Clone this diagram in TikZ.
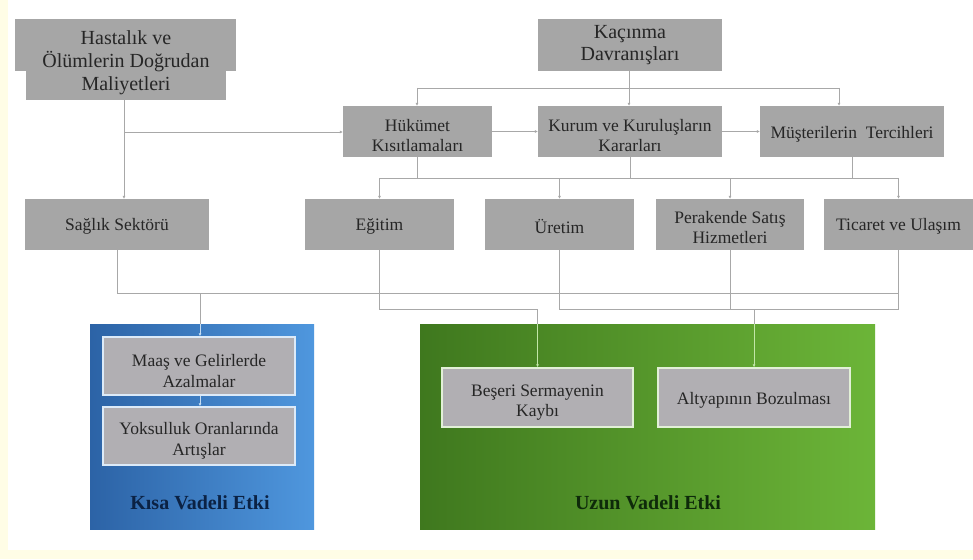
\documentclass[tikz,border=0pt]{standalone}
\usepackage{fontspec}
\setmainfont{Liberation Serif}
\usetikzlibrary{arrows.meta}
\definecolor{boxgray}{HTML}{A6A6A6}
\definecolor{innergray}{HTML}{B1AFB3}
\definecolor{linegray}{HTML}{A8A8A8}
\definecolor{txt}{HTML}{262626}
\definecolor{bgyellow}{HTML}{FFFDE6}
\definecolor{blueA}{HTML}{2C63A6}
\definecolor{blueB}{HTML}{4F97DE}
\definecolor{greenA}{HTML}{3F781E}
\definecolor{greenB}{HTML}{6CB538}
\definecolor{blueline}{HTML}{C4DCF2}
\definecolor{greenline}{HTML}{C2E6A8}
\definecolor{navy}{HTML}{0B2244}
\definecolor{dkgreen}{HTML}{0E2A0A}
\tikzset{
  gbox/.style={fill=boxgray, inner sep=0pt},
  ibox/.style={fill=innergray, inner sep=0pt, line width=1.5pt},
  tstyle/.style={inner sep=0pt, align=center, text=txt,
    font=\fontsize{17.5}{20.5}\selectfont},
  bigt/.style={tstyle, font=\fontsize{20}{23}\selectfont},
  conn/.style={draw=linegray, line width=0.8pt},
  arr/.style={conn, -{Latex[length=3pt,width=3pt]}},
  barr/.style={draw=blueline, line width=0.8pt, -{Latex[length=3pt,width=3pt]}},
  garr/.style={draw=greenline, line width=0.8pt, -{Latex[length=3pt,width=3pt]}},
  lbl/.style={font=\fontsize{20}{24}\selectfont\bfseries, inner sep=0pt}
}
\begin{document}
\begin{tikzpicture}[x=1pt,y=-1pt]
\useasboundingbox (0,0) rectangle (973,559);
\fill[bgyellow] (0,0) rectangle (973,559);
\fill[white] (8,0) rectangle (973,550);

% top row
\fill[boxgray] (15,19) rectangle (236,71);
\node[gbox, minimum width=200pt, minimum height=81pt] (hast) at (126,59.5) {};
\node[bigt, yshift=-3pt] (hastT) at (hast) {Hastalık ve\\Ölümlerin Doğrudan\\Maliyetleri};
\node[gbox, minimum width=184pt, minimum height=52pt] (kac) at (630,45) {};
\node[bigt, font=\fontsize{20}{22}\selectfont] (kacT) at (kac) {Kaçınma\\Davranışları};

% second row
\node[gbox, minimum width=149pt, minimum height=51pt] (huk) at (417.5,131.5) {};
\node[gbox, minimum width=184pt, minimum height=51pt] (kur) at (630,131.5) {};
\node[gbox, minimum width=184pt, minimum height=51pt] (mus) at (852,131.5) {};
\node[tstyle, yshift=-4pt] (hukT) at (huk) {Hükümet\\Kısıtlamaları};
\node[tstyle, yshift=-4pt] (kurT) at (kur) {Kurum ve Kuruluşların\\Kararları};
\node[tstyle, yshift=-3pt] (musT) at (mus) {Müşterilerin~~Tercihleri};

% third row
\node[gbox, minimum width=184pt, minimum height=51pt] (sag) at (117,224.5) {};
\node[gbox, minimum width=149pt, minimum height=51pt] (egi) at (379.5,224.5) {};
\node[gbox, minimum width=149pt, minimum height=51pt] (ure) at (559.5,224.5) {};
\node[gbox, minimum width=148pt, minimum height=51pt] (per) at (730,224.5) {};
\node[gbox, minimum width=149pt, minimum height=51pt] (tic) at (898.5,224.5) {};
\node[tstyle, yshift=-2pt] (sagT) at (sag) {Sağlık Sektörü};
\node[tstyle, yshift=-2pt] (egiT) at (egi) {Eğitim};
\node[tstyle, yshift=-2pt] (ureT) at (ure) {Üretim};
\node[tstyle, yshift=-3pt] (perT) at (per) {Perakende Satış\\Hizmetleri};
\node[tstyle, yshift=-2pt] (ticT) at (tic) {Ticaret ve Ulaşım};

% effect panels
\node[inner sep=0pt, minimum width=224pt, minimum height=205pt, left color=blueA, right color=blueB] (kisa) at (202,426.5) {};
\node[inner sep=0pt, minimum width=455pt, minimum height=205pt, left color=greenA, right color=greenB] (uzun) at (647.5,426.5) {};

\node[ibox, draw=white!80!blueB, minimum width=192pt, minimum height=58pt] (maas) at (199,366) {};
\node[ibox, draw=white!80!blueB, minimum width=192pt, minimum height=58pt] (yok) at (199,436) {};
\node[ibox, draw=white!80!greenB, minimum width=191pt, minimum height=59pt] (bes) at (537.5,397.5) {};
\node[ibox, draw=white!80!greenB, minimum width=192pt, minimum height=59pt] (alt) at (754,397.5) {};
\node[tstyle, yshift=-5pt] (maasT) at (maas) {Maaş ve Gelirlerde\\Azalmalar};
\node[tstyle, yshift=-5pt] (yokT) at (yok) {Yoksulluk Oranlarında\\Artışlar};
\node[tstyle, yshift=-5pt] (besT) at (bes) {Beşeri Sermayenin\\Kaybı};
\node[tstyle, yshift=-3pt] (altT) at (alt) {Altyapının Bozulması};

\node[lbl, text=navy] (kisaT) at (200,503) {Kısa Vadeli Etki};
\node[lbl, text=dkgreen] (uzunT) at (648,503) {Uzun Vadeli Etki};

% connectors: top
\coordinate (hj) at (124,132);
\draw[arr] (hast.south -| hj) -- (sag.north -| hj);
\draw[arr] (hj) -- (hj -| huk.west);

\coordinate (kj) at (629,88);
\coordinate (kjL) at (417,88);
\coordinate (kjR) at (839,88);
\draw[conn] (kac.south -| kj) -- (kj);
\draw[conn] (kjL) -- (kjR);
\draw[arr] (kjL) -- (kjL |- huk.north);
\draw[arr] (kj) -- (kj |- kur.north);
\draw[arr] (kjR) -- (kjR |- mus.north);

\draw[arr] (huk.east) -- (kur.west);
\draw[arr] (kur.east) -- (mus.west);

% connectors: to sectors
\coordinate (r2) at (0,178);
\draw[conn] (huk.south) -- (huk.south |- r2);
\draw[conn] (kur.south) -- (kur.south |- r2);
\draw[conn] (mus.south) -- (mus.south |- r2);
\draw[conn] (egi.north |- r2) -- (tic.north |- r2);
\draw[arr] (egi.north |- r2) -- (egi.north);
\draw[arr] (ure.north |- r2) -- (ure.north);
\draw[arr] (per.north |- r2) -- (per.north);
\draw[arr] (tic.north |- r2) -- (tic.north);

% connectors: to effects
\coordinate (r3) at (0,293);
\coordinate (r4) at (0,309);
\coordinate (kd) at (200,293);
\draw[conn] (sag.south) -- (sag.south |- r3) -- (tic.south |- r3);
\draw[conn] (tic.south) -- (tic.south |- r4) -- (ure.south |- r4) -- (ure.south);
\draw[conn] (per.south) -- (per.south |- r4);
\draw[conn] (egi.south) -- (egi.south |- r4) -- (bes.north |- r4) -- (bes.north |- uzun.north);
\draw[conn] (alt.north |- r4) -- (alt.north |- uzun.north);
\draw[conn] (kd) -- (kd |- kisa.north);

\draw[barr] (kd |- kisa.north) -- (kd |- maas.north);
\draw[barr] (kd |- maas.south) -- (kd |- yok.north);
\draw[garr] (bes.north |- uzun.north) -- (bes.north);
\draw[garr] (alt.north |- uzun.north) -- (alt.north);
\end{tikzpicture}
\end{document}
